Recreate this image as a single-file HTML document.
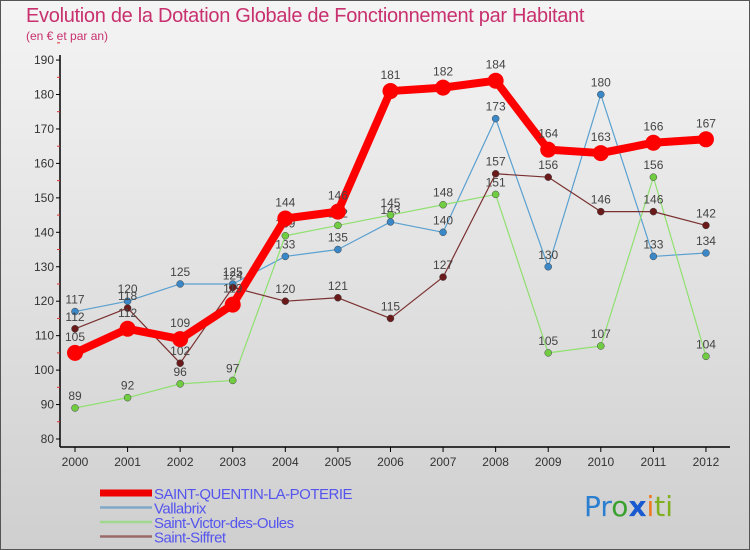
<!DOCTYPE html>
<html><head><meta charset="utf-8"><style>
body{margin:0;width:750px;height:550px;overflow:hidden;font-family:"Liberation Sans",sans-serif}
svg{display:block}
</style></head><body>
<svg id="c" width="750" height="550" xmlns="http://www.w3.org/2000/svg">
<defs><linearGradient id="bg" x1="0" y1="0" x2="0" y2="1"><stop offset="0" stop-color="#f4f4f4"/><stop offset="1" stop-color="#cfcfcf"/></linearGradient></defs>
<rect x="0.5" y="0.5" width="749" height="549" fill="url(#bg)" stroke="#555"/>
<text x="26" y="22" font-size="20" fill="#c8306e" letter-spacing="-0.3">Evolution de la Dotation Globale de Fonctionnement par Habitant</text>
<text x="26" y="40" font-size="12" fill="#c8306e">(en € et par an)</text>
<g id="axes"></g><g id="series"></g><g id="legend"></g>
<text x="584" y="516" font-size="28" font-family="'DejaVu Sans',sans-serif"><tspan fill="#2a7fd0">Pr</tspan><tspan fill="#3aa030">o</tspan><tspan fill="#1a5ad0" font-weight="bold">x</tspan><tspan fill="#f07820">i</tspan><tspan fill="#80b020">ti</tspan></text>
</svg>
<script>
const years=["2000","2001","2002","2003","2004","2005","2006","2007","2008","2009","2010","2011","2012"];
const yTicks=[80,90,100,110,120,130,140,150,160,170,180,190];
const sq=[105,112,109,119,144,146,181,182,184,164,163,166,167];
const vallabrix=[117,120,125,125,133,135,143,140,173,130,180,133,134];
const svo=[89,92,96,97,139,142,145,148,151,105,107,156,104];
const siffret=[112,118,102,124,120,121,115,127,157,156,146,146,142];
const NS="http://www.w3.org/2000/svg";
const X=i=>75+i*52.58;
const Y=v=>439-(v-80)*3.445;
function mk(tag,attrs,parent){const e=document.createElementNS(NS,tag);for(const k in attrs)e.setAttribute(k,attrs[k]);parent.appendChild(e);return e;}
const ax=document.getElementById('axes');
let a=mk('line',{x1:60,y1:55,x2:60,y2:447,stroke:'#000','stroke-width':1.5},ax);


a=mk('line',{x1:60,y1:447,x2:730,y2:447,stroke:'#000','stroke-width':1.5},ax);


yTicks.forEach(v=>{
 mk('line',{x1:56,y1:Y(v),x2:60,y2:Y(v),stroke:'#000'},ax);
 mk('line',{x1:57,y1:Y(v+5),x2:60,y2:Y(v+5),stroke:'#e03030'},ax);
 const t=mk('text',{x:54,y:Y(v)+4,'text-anchor':'end','font-size':12,fill:'#333'},ax);t.textContent=v;
 
 
});
years.forEach((y,i)=>{
 mk('line',{x1:X(i),y1:447,x2:X(i),y2:452,stroke:'#000'},ax);
 const t=mk('text',{x:X(i),y:466,'text-anchor':'middle','font-size':12,fill:'#333'},ax);t.textContent=y;
 
 
});
const series=[
 {d:vallabrix,c:'#5aa0d0',dot:'#3a88c8',w:1.2,r:3.5,name:'vallabrix'},
 {d:svo,c:'#90e070',dot:'#70cc40',w:1.2,r:3.5,name:'saint-victor-des-oules'},
 {d:siffret,c:'#7a3030',dot:'#6a1a1a',w:1.2,r:3.5,name:'saint-siffret'},
 {d:sq,c:'#ff0000',dot:'#ff0000',w:8,r:8,name:'saint-quentin-la-poterie'}];
const sg=document.getElementById('series');
series.forEach(s=>{
 const g=mk('g',{},sg);
 
 
 const p=mk('polyline',{points:s.d.map((v,i)=>X(i)+','+Y(v)).join(' '),fill:'none',stroke:s.c,'stroke-width':s.w,'stroke-linejoin':'round'},g);
 
 
 s.d.forEach((v,i)=>{
  const c=mk('circle',{cx:X(i),cy:Y(v),r:s.r,fill:s.dot,stroke:s.w>2?'none':'#444','stroke-width':0.5},g);
  
  
  const t=mk('text',{x:X(i),y:Y(v)-(s.w>2?12:8),'text-anchor':'middle','font-size':12,fill:'#444'},g);t.textContent=v;
  
  
 });
});
const lg=document.getElementById('legend');
[['SAINT-QUENTIN-LA-POTERIE','#ee0000',7],['Vallabrix','#80a8c8',2.5],['Saint-Victor-des-Oules','#a0d890',2.5],['Saint-Siffret','#9a6a6a',2.5]].forEach((e,i)=>{
 const y=493+i*14.5;
 const g=mk('g',{},lg);
 
 
 mk('line',{x1:100,y1:y,x2:152,y2:y,stroke:e[1],'stroke-width':e[2]},g);
 const t=mk('text',{x:154,y:y+6,'font-size':15,fill:'#5555ee','letter-spacing':'-0.5'},g);t.textContent=e[0];
});
</script>
</body></html>
